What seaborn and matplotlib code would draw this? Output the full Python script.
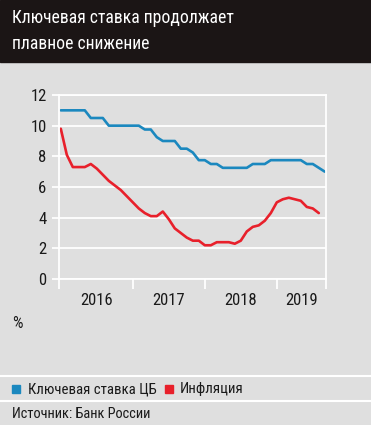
import numpy as np
import pandas as pd
import matplotlib
matplotlib.use('Agg')
import matplotlib.pyplot as plt
import matplotlib.font_manager as fm
from matplotlib.patches import Rectangle
from matplotlib.lines import Line2D
import seaborn as sns

# monthly data, Jan 2016 onwards
key_rate = [11, 11, 11, 11, 11, 10.5, 10.5, 10.5, 10, 10, 10, 10,
            10, 10, 9.75, 9.75, 9.25, 9, 9, 9, 8.5, 8.5, 8.25, 7.75,
            7.75, 7.5, 7.5, 7.25, 7.25, 7.25, 7.25, 7.25, 7.5, 7.5, 7.5, 7.75,
            7.75, 7.75, 7.75, 7.75, 7.75, 7.5, 7.5, 7.25, 7.0]
inflation = [9.8, 8.1, 7.3, 7.3, 7.3, 7.5, 7.2, 6.8, 6.4, 6.1, 5.8, 5.4,
             5.0, 4.6, 4.3, 4.1, 4.1, 4.4, 3.9, 3.3, 3.0, 2.7, 2.5, 2.5,
             2.2, 2.2, 2.4, 2.4, 2.4, 2.3, 2.5, 3.1, 3.4, 3.5, 3.8, 4.3,
             5.0, 5.2, 5.3, 5.2, 5.1, 4.7, 4.6, 4.3]
years = ['2016', '2017', '2018', '2019']
series_names = ['Ключевая ставка ЦБ', 'Инфляция']
colors = ['#1b88bf', '#e8202b']

sns.set_theme(style='white')
installed = {f.name for f in fm.fontManager.ttflist}
font = next((f for f in ['Liberation Sans Narrow', 'Roboto Condensed', 'DejaVu Sans']
             if f in installed), 'DejaVu Sans')
plt.rcParams['font.family'] = [font, 'DejaVu Sans']

bg = '#dfdfdf'
txt = '#1a1a1a'

df = pd.concat([
    pd.DataFrame({'month': np.arange(len(key_rate)), 'value': key_rate, 'series': series_names[0]}),
    pd.DataFrame({'month': np.arange(len(inflation)), 'value': inflation, 'series': series_names[1]}),
])

fig = plt.figure(figsize=(3.71, 4.25), dpi=100)
fig.patch.set_facecolor(bg)

# title band
fig.add_artist(Rectangle((0, 1 - 62 / 425), 1, 62 / 425, transform=fig.transFigure,
                         color='#1b1515', zorder=0))
fig.text(12 / 371, 1 - 18 / 425, 'Ключевая ставка продолжает', color='white',
         fontsize=12.7, va='center', ha='left')
fig.text(12 / 371, 1 - 44 / 425, 'плавное снижение', color='white',
         fontsize=12.7, va='center', ha='left')

ax = fig.add_axes([59 / 371, 1 - 279 / 425, 267 / 371, 184 / 425])
ax.set_facecolor(bg)
sns.lineplot(data=df, x='month', y='value', hue='series', palette=colors,
             linewidth=1.9, legend=False, ax=ax)

ax.set_ylim(0, 12)
ax.set_yticks(range(0, 13, 2))
ax.set_xlim(-0.3, 44.2)
ax.set_xticks([-0.3, 12, 24, 36, 44.2])
ax.set_xticklabels([])
ax.set_xticks([6, 18, 30, 40.1], minor=True)
ax.set_xticklabels(years, minor=True)
ax.grid(axis='y', color='white', linewidth=1.3)
ax.set_axisbelow(True)
for s in ax.spines.values():
    s.set_color('white')
    s.set_linewidth(1.3)
ax.tick_params(axis='y', length=5, width=1.3, color='white', pad=4,
               labelsize=12, labelcolor=txt, left=True)
ax.tick_params(axis='x', which='major', length=7, width=1.3, color='white', bottom=True)
ax.tick_params(axis='x', which='minor', length=0, pad=10, labelsize=12, labelcolor=txt)
ax.set_xlabel('')
ax.set_ylabel('')

fig.text(12 / 371, 1 - 323 / 425, '%', fontsize=12, color=txt, va='center')

# separators
for y in [376, 401]:
    fig.add_artist(Line2D([0, 1], [1 - y / 425] * 2, color='white', linewidth=1.5,
                          transform=fig.transFigure))

# legend
for x0, tx, c, name in [(12, 28, colors[0], series_names[0]), (165, 180, colors[1], series_names[1])]:
    fig.add_artist(Rectangle((x0 / 371, 1 - 393 / 425), 8 / 371, 8 / 425,
                             transform=fig.transFigure, color=c))
    fig.text(tx / 371, 1 - 389 / 425, name, fontsize=10.6, color=txt, va='center')

fig.text(12 / 371, 1 - 414 / 425, 'Источник: Банк России', fontsize=10.4, color=txt,
         va='center')

fig.savefig('out.png', dpi=100, facecolor=bg)
